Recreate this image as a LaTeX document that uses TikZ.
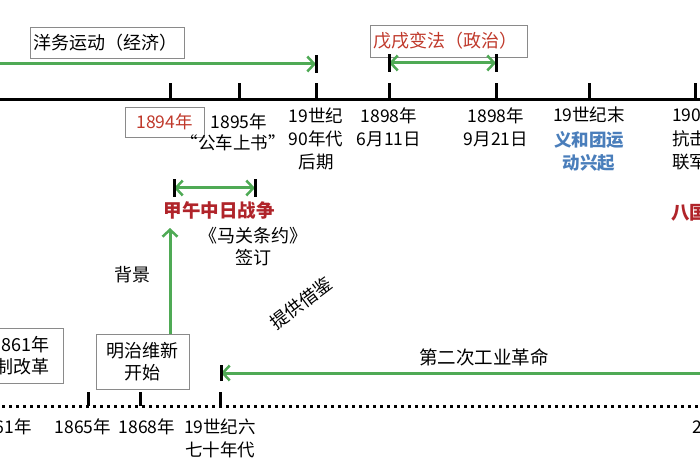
\documentclass[tikz,border=0pt]{standalone}
\usepackage{fontspec}
\setmainfont{Noto Sans CJK SC}
\usetikzlibrary{arrows.meta}
\definecolor{ggreen}{HTML}{4FAA55}
\definecolor{rtext}{HTML}{C0392B}
\definecolor{rbold}{HTML}{B0242A}
\definecolor{btext}{HTML}{4A7EBB}
\definecolor{boxc}{HTML}{8A8A8A}
\tikzset{
  lbl/.style={inner sep=0pt, align=center, font=\fontsize{17.5}{23}\selectfont},
  tbox/.style={draw=boxc, line width=0.8pt, inner sep=0pt, align=center, font=\fontsize{18}{22}\selectfont},
  axis/.style={line width=3pt, black},
  dotaxis/.style={line width=3pt, black, dash pattern=on 3pt off 4pt},
  tick/.style={line width=3pt, black},
  garrow/.style={line width=3pt, ggreen, -{Straight Barb[length=7pt,width=15pt,line width=2.5pt]}},
  gdarrow/.style={line width=3pt, ggreen, {Straight Barb[length=7pt,width=15pt,line width=2.5pt]}-{Straight Barb[length=7pt,width=15pt,line width=2.5pt]}},
}
\begin{document}
\begin{tikzpicture}[x=1pt,y=-1pt]
\useasboundingbox (0,0) rectangle (700,470);
\clip (0,0) rectangle (700,470);
\fill[white] (0,0) rectangle (700,470);

% ---------- top axis ----------
\coordinate (ta0) at (-5,100);
\coordinate (ta1) at (705,100);
\draw[axis] (ta0) -- (ta1);
\foreach \n/\x in {t1894/170,t1895/239,t1890s/316,t0611/389,t0921/496,tend/589,t1900/695}{
  \coordinate (\n) at (\x,100);
  \draw[tick] (\n) -- ++(0,-17);
}

% Yangwu movement
\node[tbox, minimum width=154pt, minimum height=31pt] (yw) at (107,43) {\makebox[148pt][l]{洋务运动（经济）}};
\coordinate (ywstart) at (-5,64);
\coordinate (ywend) at (316,64);
\draw[garrow] (ywstart) -- (ywend);
\draw[tick] ([yshift=-9pt]ywend) -- ([yshift=9pt]ywend);

% Wuxu reform
\node[tbox, text=rtext, minimum width=157pt, minimum height=32pt] (wx) at (448.5,41) {\makebox[150pt][l]{戊戌变法（政治）}};
\coordinate (wxa) at (389,63);
\coordinate (wxb) at (496,63);
\draw[gdarrow] (wxa) -- (wxb);
\draw[tick] ([yshift=-9pt]wxa) -- ([yshift=9pt]wxa);
\draw[tick] ([yshift=-9pt]wxb) -- ([yshift=9pt]wxb);

% labels under top axis
\node[tbox, text=rtext, font=\fontsize{17.5}{22}\selectfont, minimum width=79pt, minimum height=30pt] (d1894) at (164.5,122) {1894年};
\node[lbl] (d1895) at (239,122) {1895年};
\node[lbl] (gcsh) at (233,143) {“公车上书”};
\node[lbl] (d1890s) at (316,139) {19世纪\\90年代\\后期};
\node[lbl] (d0611) at (389,127) {1898年\\6月11日};
\node[lbl] (d0921) at (496,127) {1898年\\9月21日};
\node[lbl] (dend) at (589,115) {19世纪末};
\node[lbl, text=btext, font=\fontsize{17.5}{23}\selectfont\bfseries] (yht) at (589,151) {义和团运\\动兴起};
\node[lbl, anchor=west] (d1900) at (672,115) {1900};
\node[lbl, anchor=west] (kj) at (672,139) {抗击};
\node[lbl, anchor=west] (lj) at (672,162) {联军};
\node[lbl, anchor=west, text=rbold, font=\fontsize{18.5}{23}\selectfont\bfseries] (bg) at (671,213) {八国};

% Sino-Japanese war
\coordinate (jwa) at (174,188);
\coordinate (jwb) at (255,188);
\draw[gdarrow] (jwa) -- (jwb);
\draw[tick] ([yshift=-9pt]jwa) -- ([yshift=9pt]jwa);
\draw[tick] ([yshift=-9pt]jwb) -- ([yshift=9pt]jwb);
\node[lbl, text=rbold, font=\fontsize{18.5}{23}\selectfont\bfseries] (jw) at (219,210) {甲午中日战争};
\node[lbl, font=\fontsize{18}{22}\selectfont] (mg) at (253,247) {《马关条约》\\签订};
\node[lbl, font=\fontsize{18}{22}\selectfont] (bj) at (132,275) {背景};
\node[lbl, font=\fontsize{18}{22}\selectfont, rotate=37] (tgjj) at (301,303) {提供借鉴};

% Meiji box and arrow
\node[tbox, minimum width=93pt, minimum height=55pt] (mz) at (142.5,361.5) {明治维新\\开始};
\coordinate (vtop) at (170,228);
\draw[garrow] (mz.north -| vtop) -- (vtop);

% left cut box
\node[tbox, minimum width=73pt, minimum height=55pt] (nn) at (26.5,355.5) {};
\node[lbl, font=\fontsize{18}{22}\selectfont, anchor=east] (nn1) at (50,345) {861年};
\node[lbl, font=\fontsize{18}{22}\selectfont, anchor=east] (nn2) at (50,367) {制改革};

% ---------- bottom axis ----------
\coordinate (ba0) at (-5,406);
\coordinate (ba1) at (705,406);
\draw[dotaxis] (ba0) -- (ba1);
\foreach \n/\x in {b1865/88,b1868/140,b1870s/220}{
  \coordinate (\n) at (\x,406);
  \draw[tick, line cap=butt] (\n) -- ++(0,-14);
}
\node[lbl, anchor=east] (d61) at (32,427) {61年};
\node[lbl] (d1865) at (83,427) {1865年};
\node[lbl] (d1868) at (147,427) {1868年};
\node[lbl] (d1870s) at (220,438.5) {19世纪六\\七十年代};
\node[lbl, anchor=west] (d2) at (692,427) {2};

% second industrial revolution
\coordinate (irs) at (705,373);
\coordinate (ire) at (221,373);
\draw[garrow] (irs) -- (ire);
\draw[tick] ([yshift=-8pt]ire) -- ([yshift=8pt]ire);
\node[lbl, font=\fontsize{18.5}{22}\selectfont] (ir) at (484,357) {第二次工业革命};
\end{tikzpicture}
\end{document}
